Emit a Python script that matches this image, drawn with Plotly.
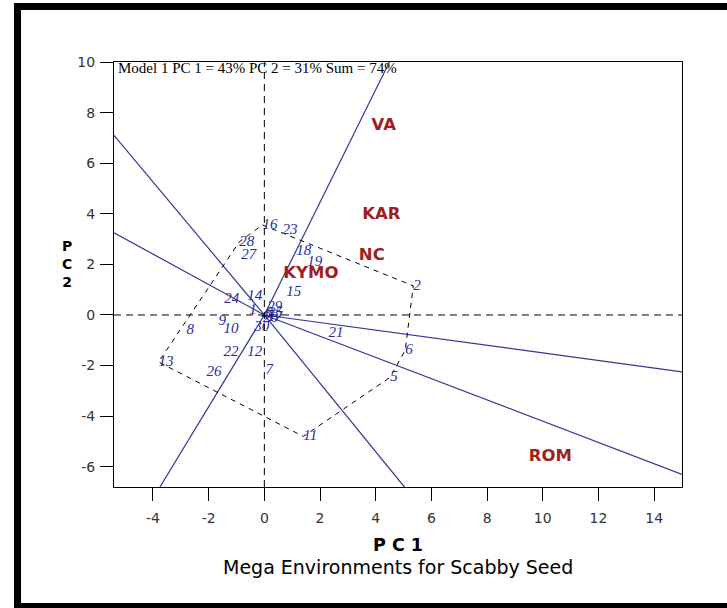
import plotly.graph_objects as go

# ---------------- data ----------------
geno_labels = ["1", "2", "5", "6", "7", "8", "9", "10", "11", "12", "13", "14", "15",
               "16", "18", "19", "21", "22", "23", "24", "26", "27", "28", "29", "30",
               "3", "4", "17", "20", "25"]
geno_x = [-0.54, 5.35, 4.52, 5.06, 0.04, -2.80, -1.65, -1.47, 1.40, -0.61, -3.80, -0.61, 0.79,
          -0.07, 1.15, 1.54, 2.30, -1.47, 0.65, -1.44, -2.08, -0.83, -0.90, 0.10, -0.36,
          0.05, -0.10, 0.10, -0.05, 0.12]
geno_y = [0.20, 1.15, -2.46, -1.39, -2.20, -0.60, -0.24, -0.55, -4.80, -1.47, -1.86, 0.75, 0.91,
          3.56, 2.50, 2.10, -0.71, -1.47, 3.33, 0.63, -2.27, 2.38, 2.89, 0.30, -0.50,
          0.05, 0.00, -0.10, -0.12, 0.08]

env_labels = ["VA", "KAR", "NC", "KYMO", "ROM"]
env_x = [4.29, 4.20, 3.86, 1.67, 10.27]
env_y = [7.47, 3.96, 2.32, 1.64, -5.62]

# polygon (convex hull) vertices, by genotype label
hull_order = ["16", "2", "6", "5", "11", "13", "28", "16"]

# rays from the origin, end points read where they leave the plot
ray_end_x = [4.49, 15.0, 15.0, 5.03, -3.75, -5.4, -5.4]
ray_end_y = [10.0, -2.25, -6.3, -6.8, -6.8, 3.25, 7.1]

x_ticks = [-4, -2, 0, 2, 4, 6, 8, 10, 12, 14]
y_ticks = [-6, -4, -2, 0, 2, 4, 6, 8, 10]

model_text = "Model 1 PC 1 = 43% PC 2 = 31% Sum = 74%"
x_title = "P C 1"
sub_title = "Mega Environments for Scabby Seed"
y_title = "P<br>C<br>2"

# ---------------- figure ----------------
RAY_COLOR = "#35359a"
GENO_COLOR = "#2a2aa0"
ENV_COLOR = "#a01e1e"

fig = go.Figure()

# rays
for ex, ey in zip(ray_end_x, ray_end_y):
    fig.add_trace(go.Scatter(x=[0, ex], y=[0, ey], mode="lines",
                             line=dict(color=RAY_COLOR, width=1.2),
                             hoverinfo="skip", showlegend=False))

# polygon
idx = {lab: i for i, lab in enumerate(geno_labels)}
hx = [geno_x[idx[l]] for l in hull_order]
hy = [geno_y[idx[l]] for l in hull_order]
fig.add_trace(go.Scatter(x=hx, y=hy, mode="lines",
                         line=dict(color="black", width=1, dash="5px,5px"),
                         hoverinfo="skip", showlegend=False))

# genotype labels
fig.add_trace(go.Scatter(x=geno_x, y=geno_y, mode="text", text=geno_labels,
                         textposition="middle right",
                         textfont=dict(family="Liberation Serif", size=15,
                                       color=GENO_COLOR, style="italic"),
                         showlegend=False))

# environment labels
fig.add_trace(go.Scatter(x=env_x, y=env_y, mode="text", text=env_labels,
                         textposition="middle center",
                         textfont=dict(family="DejaVu Sans", size=16.5,
                                       color=ENV_COLOR, weight="bold"),
                         showlegend=False))

# dashed zero lines
fig.add_shape(type="line", xref="x domain", yref="y", x0=0, x1=1, y0=0, y1=0,
              line=dict(color="black", width=1, dash="7px,5px"))
fig.add_shape(type="line", xref="x", yref="y domain", x0=0, x1=0, y0=0, y1=1,
              line=dict(color="black", width=1, dash="7px,5px"))

# outer black frame (left, top, bottom)
fig.add_shape(type="rect", xref="paper", yref="paper",
              x0=-0.176, x1=-0.1637, y0=-0.2847, y1=1.1388,
              fillcolor="black", line=dict(width=0))
fig.add_shape(type="rect", xref="paper", yref="paper",
              x0=-0.176, x1=1.08, y0=1.1224, y1=1.1388,
              fillcolor="black", line=dict(width=0))
fig.add_shape(type="rect", xref="paper", yref="paper",
              x0=-0.176, x1=1.08, y0=-0.2847, y1=-0.2729,
              fillcolor="black", line=dict(width=0))

# annotations
fig.add_annotation(xref="paper", yref="paper", x=0.004, y=0.986, text=model_text,
                   showarrow=False, xanchor="left", yanchor="middle",
                   font=dict(family="Liberation Serif", size=15, color="black"))
fig.add_annotation(xref="paper", yref="paper", x=0.5, y=-0.136, text=x_title,
                   showarrow=False, xanchor="center", yanchor="middle",
                   font=dict(family="DejaVu Sans", size=17.5, color="black", weight="bold"))
fig.add_annotation(xref="paper", yref="paper", x=0.5, y=-0.188, text=sub_title,
                   showarrow=False, xanchor="center", yanchor="middle",
                   font=dict(family="DejaVu Sans", size=19, color="black"))
fig.add_annotation(xref="paper", yref="paper", x=-0.083, y=0.525, text=y_title,
                   showarrow=False, xanchor="center", yanchor="middle",
                   font=dict(family="DejaVu Sans", size=14, color="black", weight="bold"))

axis_common = dict(showline=True, linecolor="black", linewidth=1, mirror=True,
                   ticks="outside", ticklen=13, tickwidth=1, tickcolor="black",
                   showgrid=False, zeroline=False,
                   tickfont=dict(family="DejaVu Sans", size=14, color="#333333"))

fig.update_xaxes(range=[-5.4, 15.0], tickvals=x_ticks,
                 ticktext=[str(v) for v in x_ticks], ticklabelstandoff=5, **axis_common)
fig.update_yaxes(range=[-6.8, 10.0], tickvals=y_ticks,
                 ticktext=[str(v) for v in y_ticks], ticklabelstandoff=2, **axis_common)

fig.update_layout(width=727, height=608,
                  margin=dict(l=114, r=45, t=62, b=121),
                  paper_bgcolor="white", plot_bgcolor="white",
                  showlegend=False)

fig.write_html("out.html", config={"displayModeBar": False},
               post_script="document.body.style.margin='0';document.body.style.overflow='hidden';")
